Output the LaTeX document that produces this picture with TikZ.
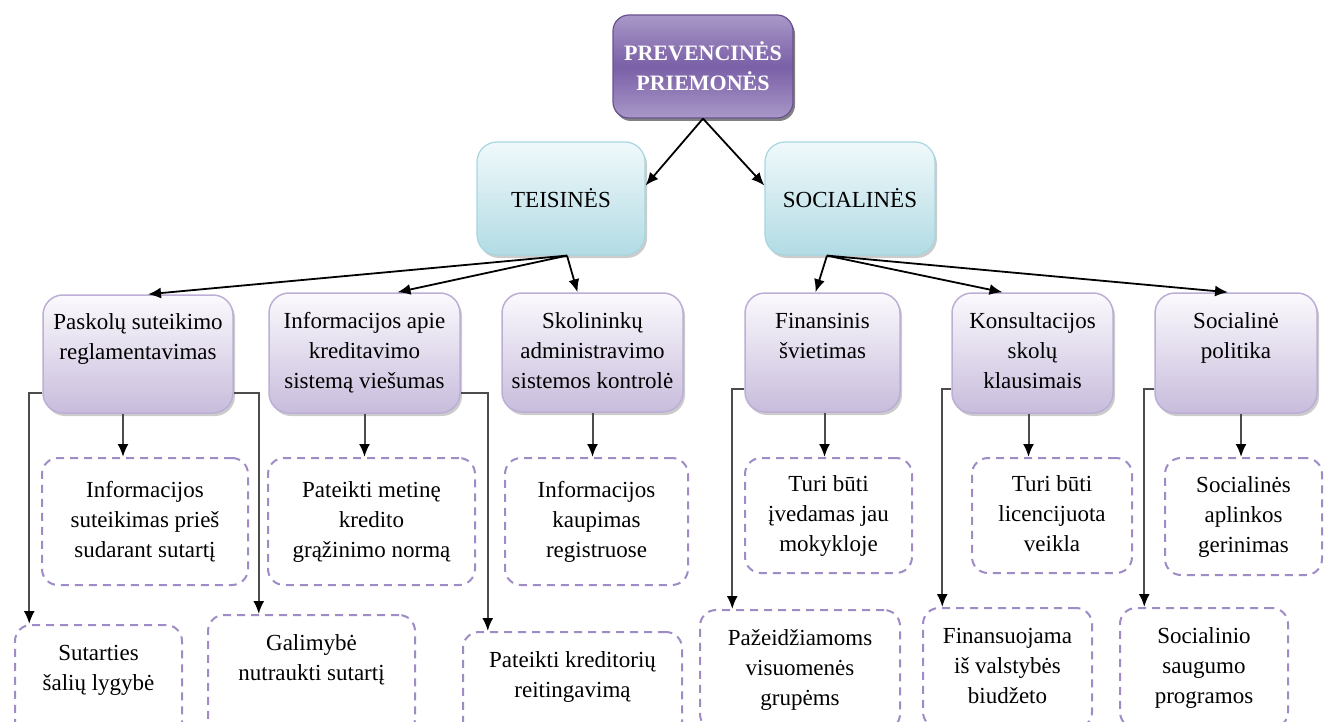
\documentclass[tikz,border=0pt]{standalone}
\usepackage{fontspec}
\setmainfont{Liberation Serif}
\usetikzlibrary{arrows.meta,shadows}

\definecolor{titletop}{HTML}{A998C8}
\definecolor{titlemid}{HTML}{7A5FA6}
\definecolor{titleline}{HTML}{6A5290}
\definecolor{cyantop}{HTML}{F0F9FB}
\definecolor{cyanbot}{HTML}{B2DBE4}
\definecolor{cyanline}{HTML}{A6D6E0}
\definecolor{violtop}{HTML}{FBFAFD}
\definecolor{violbot}{HTML}{C8BCDC}
\definecolor{violline}{HTML}{BCAED4}
\definecolor{dashline}{HTML}{9F8CC6}

\begin{document}
\begin{tikzpicture}[x=1pt,y=-1pt,
    font=\fontsize{23}{30}\selectfont,
    >={Latex[length=13pt,width=11pt]},
    every node/.style={align=center,inner sep=0pt},
    du/.style={text height=46pt,text depth=35pt},
    trys/.style={text height=76pt,text depth=5pt},
    pagrindinis/.style={draw=titleline,line width=1.2pt,rounded corners=16pt,
      top color=titletop,bottom color=titletop,middle color=titlemid,
      text=white,font=\fontsize{22}{30}\selectfont\bfseries,
      drop shadow={shadow xshift=2pt,shadow yshift=-3pt,fill=black!70,opacity=.7}},
    grupe/.style={draw=cyanline,line width=1.2pt,rounded corners=20pt,
      top color=cyantop,bottom color=cyanbot,
      drop shadow={shadow xshift=2pt,shadow yshift=-3pt,fill=black!40,opacity=.5}},
    priemone/.style={draw=violline,line width=1.5pt,rounded corners=20pt,
      top color=violtop,bottom color=violbot,
      drop shadow={shadow xshift=2pt,shadow yshift=-3pt,fill=black!40,opacity=.5}},
    veiksmas/.style={draw=dashline,line width=2pt,
      dash pattern=on 8pt off 6pt,rounded corners=16pt},
    rodykle/.style={->,black,line width=1.8pt},
    saka/.style={-{Latex[length=13pt,width=11pt,color=black]},draw=black!70,line width=2pt}]

  \useasboundingbox (0,0) rectangle (1325,722);
  \clip (0,0) rectangle (1325,722);

  \node[pagrindinis,minimum width=180pt,minimum height=103pt] (top) at (703,66.5)
    {PREVENCINĖS\\PRIEMONĖS};

  \node[grupe,minimum width=168pt,minimum height=113pt] (teis) at (561,198.5) {TEISINĖS};
  \node[grupe,minimum width=170pt,minimum height=113pt] (soc) at (850,198.5) {SOCIALINĖS};

  % Teisinės priemonės
  \node[priemone,du,minimum width=190pt,minimum height=118pt] (p1) at (138,354)
    {Paskolų suteikimo\\reglamentavimas};
  \node[priemone,trys,minimum width=191pt,minimum height=120pt] (p2) at (364.5,353)
    {Informacijos apie\\kreditavimo\\sistemą viešumas};
  \node[priemone,trys,minimum width=181pt,minimum height=119pt] (p3) at (592.5,352.5)
    {Skolininkų\\administravimo\\sistemos kontrolė};

  % Socialinės priemonės
  \node[priemone,du,minimum width=155pt,minimum height=119pt] (s1) at (822.5,352.5)
    {Finansinis\\švietimas};
  \node[priemone,trys,minimum width=161pt,minimum height=120pt] (s2) at (1032.5,353)
    {Konsultacijos\\skolų\\klausimais};
  \node[priemone,du,minimum width=162pt,minimum height=120pt] (s3) at (1236,353)
    {Socialinė\\politika};

  % Veiksmai
  \node[veiksmas,trys,minimum width=206pt,minimum height=127pt] (a1) at (145,521.5)
    {Informacijos\\suteikimas prieš\\sudarant sutartį};
  \node[veiksmas,trys,minimum width=207pt,minimum height=127pt] (a2) at (371.5,521.5)
    {Pateikti metinę\\kredito\\grąžinimo normą};
  \node[veiksmas,trys,minimum width=183pt,minimum height=127pt] (a3) at (596.5,521.5)
    {Informacijos\\kaupimas\\registruose};
  \node[veiksmas,trys,minimum width=167pt,minimum height=115pt] (b1) at (828.5,515.5)
    {Turi būti\\įvedamas jau\\mokykloje};
  \node[veiksmas,trys,minimum width=160pt,minimum height=115pt] (b2) at (1052,515.5)
    {Turi būti\\licencijuota\\veikla};
  \node[veiksmas,trys,minimum width=157pt,minimum height=117pt] (b3) at (1243.5,516.5)
    {Socialinės\\aplinkos\\gerinimas};

  \node[veiksmas,du,minimum width=167pt,minimum height=120pt] (c1) at (98.5,685)
    {Sutarties\\šalių lygybė};
  \node[veiksmas,du,minimum width=207pt,minimum height=120pt] (c2) at (311.5,675)
    {Galimybė\\nutraukti sutartį};
  \node[veiksmas,du,minimum width=219pt,minimum height=120pt] (c3) at (572.5,692)
    {Pateikti kreditorių\\reitingavimą};
  \node[veiksmas,trys,minimum width=200pt,minimum height=120pt] (d1) at (800,670)
    {Pažeidžiamoms\\visuomenės\\grupėms};
  \node[veiksmas,trys,minimum width=169pt,minimum height=120pt] (d2) at (1007.5,668)
    {Finansuojama\\iš valstybės\\biudžeto};
  \node[veiksmas,trys,minimum width=168pt,minimum height=120pt] (d3) at (1204,668)
    {Socialinio\\saugumo\\programos};

  \path[rodykle]
    (top.south) edge ([yshift=13pt]teis.east)
                edge ([yshift=13pt]soc.west)
    ([xshift=6pt]teis.south) edge ([xshift=10pt]p1.north)
                             edge ([xshift=33pt]p2.north)
                             edge ([xshift=-15pt]p3.north)
    ([xshift=-23pt]soc.south) edge ([xshift=-7pt]s1.north)
                              edge ([xshift=-30pt]s2.north)
                              edge ([xshift=-8pt]s3.north);

  % Tiesiai žemyn
  \draw[saka] ([xshift=-15pt]p1.south) -- ([xshift=-15pt]p1.south |- a1.north);
  \draw[saka] (p2.south) -- (p2.south |- a2.north);
  \draw[saka] (p3.south) -- (p3.south |- a3.north);
  \draw[saka] ([xshift=2pt]s1.south) -- ([xshift=2pt]s1.south |- b1.north);
  \draw[saka] ([xshift=-4pt]s2.south) -- ([xshift=-4pt]s2.south |- b2.north);
  \draw[saka] ([xshift=5pt]s3.south) -- ([xshift=5pt]s3.south |- b3.north);

  % Šoninės šakos
  \draw[saka] ([yshift=-39pt]p1.west) -- ++(-13,0) coordinate (k1) -- (k1 |- c1.north);
  \draw[saka] ([yshift=-39pt]p1.east) -- ++(25,0) coordinate (k2) -- (k2 |- c2.north);
  \draw[saka] ([yshift=-40pt]p2.east) -- ++(27,0) coordinate (k3) -- (k3 |- c3.north);
  \draw[saka] ([yshift=-36.5pt]s1.west) -- ++(-12,0) coordinate (k4) -- (k4 |- d1.north);
  \draw[saka] ([yshift=-36pt]s2.west) -- ++(-9,0) coordinate (k5) -- (k5 |- d2.north);
  \draw[saka] ([yshift=-36pt]s3.west) -- ++(-10,0) coordinate (k6) -- (k6 |- d3.north);
\end{tikzpicture}
\end{document}
